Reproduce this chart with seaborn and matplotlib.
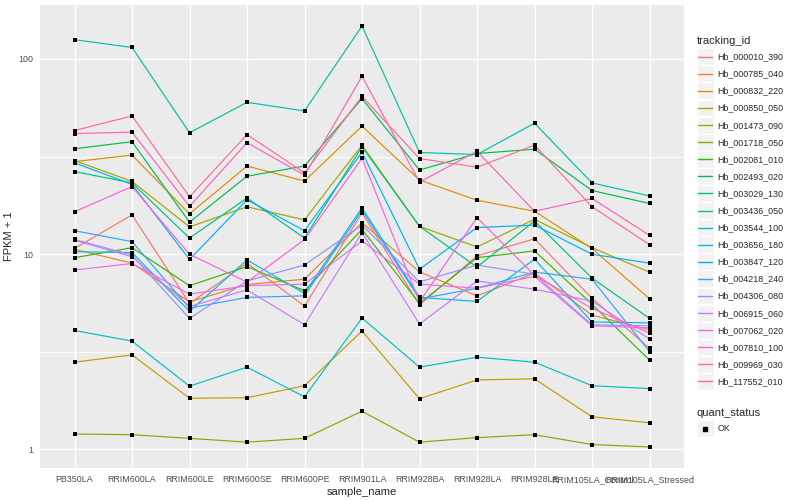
import numpy as np
import pandas as pd
import matplotlib
matplotlib.use("Agg")
import matplotlib.pyplot as plt
import seaborn as sns
from matplotlib.lines import Line2D
from matplotlib.patches import Rectangle
from matplotlib.legend_handler import HandlerBase

samples = ["PB350LA", "RRIM600LA", "RRIM600LE", "RRIM600SE", "RRIM600PE", "RRIM901LA",
           "RRIM928BA", "RRIM928LA", "RRIM928LE", "RRIM105LA_Control", "RRIM105LA_Stressed"]

# FPKM + 1 per gene, one value per sample
Hb_000010_390 = [10.7, 15.9, 5.6, 9.0, 5.42, 16.3, 5.5, 9.8, 12.0, 5.94, 3.30]
Hb_000785_040 = [10.6, 9.0, 5.7, 7.0, 7.45, 14.5, 8.12, 6.12, 8.0, 4.88, 4.10]
Hb_000832_220 = [29.8, 32.2, 16.1, 28.3, 23.7, 45.3, 24.0, 18.9, 16.6, 10.7, 5.91]
Hb_000850_050 = [2.80, 3.05, 1.83, 1.84, 2.12, 4.04, 1.82, 2.27, 2.30, 1.47, 1.37]
Hb_001473_090 = [30.2, 23.6, 13.8, 17.5, 15.0, 36.2, 13.9, 10.9, 15.1, 10.8, 8.1]
Hb_001718_050 = [1.20, 1.19, 1.14, 1.09, 1.14, 1.57, 1.09, 1.15, 1.19, 1.06, 1.03]
Hb_002081_010 = [9.6, 10.8, 6.9, 8.65, 6.5, 13.4, 5.6, 9.6, 10.4, 5.55, 2.87]
Hb_002493_020 = [34.7, 37.7, 14.6, 25.1, 28.3, 62.7, 27.0, 32.8, 34.5, 21.2, 18.2]
Hb_003029_130 = [26.5, 23.2, 12.1, 19.4, 12.1, 35.5, 13.9, 8.6, 14.8, 7.55, 4.69]
Hb_003436_050 = [125.6, 114.6, 41.9, 60.0, 54.2, 147.5, 33.2, 32.4, 46.9, 23.2, 19.9]
Hb_003544_100 = [4.07, 3.59, 2.11, 2.64, 1.86, 4.71, 2.64, 2.97, 2.80, 2.12, 2.05]
Hb_003656_180 = [10.3, 10.2, 5.1, 9.35, 6.3, 17.3, 6.01, 5.73, 9.43, 4.5, 4.45]
Hb_003847_120 = [29.4, 22.8, 9.4, 19.0, 13.2, 33.3, 8.38, 13.7, 14.1, 10.0, 9.0]
Hb_004218_240 = [13.2, 11.6, 5.3, 6.01, 6.12, 16.8, 5.9, 6.7, 8.1, 7.45, 3.17]
Hb_004306_080 = [11.9, 9.9, 4.69, 7.3, 8.81, 14.1, 7.22, 8.8, 7.9, 4.35, 4.30]
Hb_006915_060 = [11.8, 9.7, 5.4, 6.57, 4.35, 12.9, 4.39, 7.3, 6.62, 5.75, 3.68]
Hb_007062_020 = [8.3, 8.96, 6.25, 6.9, 7.03, 11.7, 7.03, 6.7, 7.7, 4.30, 4.20]
Hb_007810_100 = [16.5, 22.2, 10.0, 7.2, 11.9, 31.0, 5.7, 15.4, 7.8, 5.28, 3.95]
Hb_009969_030 = [41.5, 42.2, 17.6, 37.3, 25.4, 81.5, 23.4, 33.7, 16.6, 19.3, 12.5]
Hb_117552_010 = [43.0, 51.1, 19.7, 41.0, 26.1, 64.4, 30.9, 27.9, 36.2, 17.5, 11.2]

genes = {
    "Hb_000010_390": Hb_000010_390, "Hb_000785_040": Hb_000785_040,
    "Hb_000832_220": Hb_000832_220, "Hb_000850_050": Hb_000850_050,
    "Hb_001473_090": Hb_001473_090, "Hb_001718_050": Hb_001718_050,
    "Hb_002081_010": Hb_002081_010, "Hb_002493_020": Hb_002493_020,
    "Hb_003029_130": Hb_003029_130, "Hb_003436_050": Hb_003436_050,
    "Hb_003544_100": Hb_003544_100, "Hb_003656_180": Hb_003656_180,
    "Hb_003847_120": Hb_003847_120, "Hb_004218_240": Hb_004218_240,
    "Hb_004306_080": Hb_004306_080, "Hb_006915_060": Hb_006915_060,
    "Hb_007062_020": Hb_007062_020, "Hb_007810_100": Hb_007810_100,
    "Hb_009969_030": Hb_009969_030, "Hb_117552_010": Hb_117552_010,
}

# ggplot2 default hue palette for 20 levels
gg_colors = ["#F8766D", "#EA8331", "#D89000", "#C09B00", "#A3A500", "#7CAE00", "#39B600",
             "#00BB4E", "#00BF7D", "#00C1A3", "#00BFC4", "#00BAE0", "#00B0F6", "#35A2FF",
             "#9590FF", "#C77CFF", "#E76BF3", "#FA62DB", "#FF62BC", "#FF6C91"]

rows = []
for gid, vals in genes.items():
    for s, v in zip(samples, vals):
        rows.append({"tracking_id": gid, "sample_name": s, "fpkm": v, "quant_status": "OK"})
df = pd.DataFrame(rows)
palette = dict(zip(genes.keys(), gg_colors))

sns.set_theme(style="darkgrid")
plt.rcParams["font.family"] = ["Liberation Sans", "DejaVu Sans"]

fig = plt.figure(figsize=(8, 5), dpi=100)
ax = fig.add_axes([0.05, 0.064, 0.805, 0.926])
ax.set_facecolor("#EBEBEB")

sns.lineplot(data=df, x="sample_name", y="fpkm", hue="tracking_id", palette=palette,
             sort=False, errorbar=None, linewidth=0.85, legend=False, ax=ax)
sns.scatterplot(data=df, x="sample_name", y="fpkm", color="black", marker="s",
                s=8, linewidth=0, legend=False, ax=ax, zorder=5)

ax.set_yscale("log")
lo, hi = np.log10(df["fpkm"].min()), np.log10(df["fpkm"].max())
pad = 0.05 * (hi - lo)
ax.set_ylim(10 ** (lo - pad), 10 ** (hi + pad))
ax.set_xlim(-0.6, len(samples) - 0.4)
ax.set_yticks([1, 10, 100])
ax.set_yticklabels(["1", "10", "100"])
ax.set_yticks([10 ** 0.5, 10 ** 1.5], minor=True)
ax.grid(which="major", color="white", linewidth=1.0)
ax.grid(which="minor", axis="y", color="white", linewidth=0.6)
ax.tick_params(which="major", length=3, width=0.8, color="#333333",
               labelsize=6.4, labelcolor="#4D4D4D", pad=2)
ax.tick_params(which="minor", length=0)
for sp in ax.spines.values():
    sp.set_visible(False)
ax.set_xlabel("sample_name", fontsize=8, labelpad=2)
ax.set_ylabel("FPKM + 1", fontsize=8, labelpad=3)


class KeyBox(HandlerBase):
    def create_artists(self, legend, orig_handle, xdescent, ydescent, width, height, fontsize, trans):
        box = Rectangle((-xdescent, -ydescent), width, height, facecolor="#F2F2F2",
                        edgecolor="white", linewidth=1.0, transform=trans)
        yc = height / 2 - ydescent
        if orig_handle.get_marker() not in (None, "None", "", " "):
            art = Line2D([width / 2 - xdescent], [yc], marker="s", markersize=2.6,
                         color="black", linestyle="none", transform=trans)
        else:
            art = Line2D([-xdescent + 1, width - xdescent - 1], [yc, yc],
                         color=orig_handle.get_color(), linewidth=1.0, transform=trans)
        return [box, art]


legend_kw = dict(loc="upper left", frameon=False, fontsize=6.4, title_fontsize=8,
                 handler_map={Line2D: KeyBox()}, handlelength=1.9, handleheight=2.55,
                 labelspacing=0.02, handletextpad=0.4, borderpad=0, borderaxespad=0,
                 alignment="left")
handles = [Line2D([], [], color=c) for c in gg_colors]
leg1 = fig.legend(handles, list(genes.keys()), title="tracking_id",
                  bbox_to_anchor=(0.871, 0.929), **legend_kw)
leg1._legend_box.sep = 2.0
leg2 = fig.legend([Line2D([], [], marker="s", color="black", linestyle="none")], ["OK"],
                  title="quant_status", bbox_to_anchor=(0.871, 0.185), **legend_kw)
leg2._legend_box.sep = 2.0

fig.savefig("out.png", dpi=100)
